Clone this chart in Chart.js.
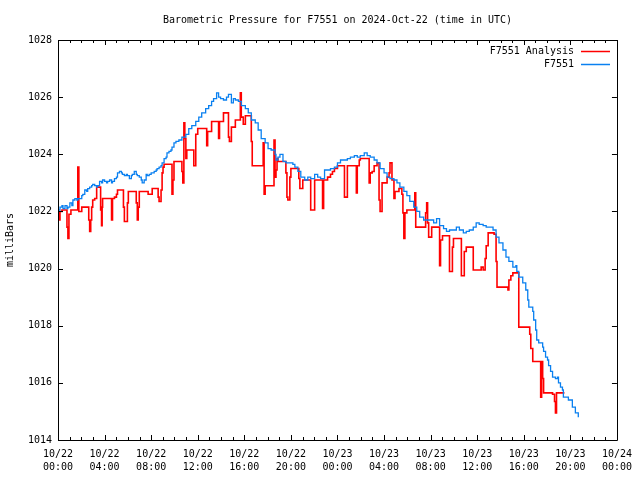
<!DOCTYPE html>
<html>
<head>
<meta charset="utf-8">
<script src="https://cdn.jsdelivr.net/npm/chart.js@4.4.1/dist/chart.umd.min.js"></script>
<style>
  html, body { margin: 0; padding: 0; background: #fff; }
  #chart { display: block; }
</style>
</head>
<body>
<canvas id="chart" width="640" height="480"></canvas>
<script>
// time in hours since 2024-10-22 00:00 UTC
const stationHours = [
  0.00, 0.17, 0.34, 0.43, 0.60, 0.77, 0.85, 1.02, 1.19, 1.28, 1.45, 1.62, 1.70, 1.87,
  2.04, 2.13, 2.30, 2.47, 2.55, 2.72, 2.89, 2.98, 3.15, 3.32, 3.40, 3.57, 3.74, 3.83,
  4.00, 4.17, 4.26, 4.43, 4.60, 4.68, 4.85, 5.02, 5.11, 5.28, 5.45, 5.53, 5.70, 5.87,
  5.96, 6.13, 6.30, 6.38, 6.55, 6.72, 6.81, 6.98, 7.15, 7.23, 7.40, 7.57, 7.66, 7.83,
  8.00, 8.09, 8.26, 8.43, 8.51, 8.68, 8.85, 8.94, 9.11, 9.28, 9.36, 9.53, 9.70, 9.79,
  9.96, 10.13, 10.38, 10.64, 10.98, 11.23, 11.49, 11.83, 12.09, 12.34, 12.68, 12.94,
  13.19, 13.36, 13.62, 13.79, 13.96, 14.21, 14.47, 14.64, 14.89, 15.06, 15.23, 15.49,
  15.74, 16.09, 16.34, 16.60, 16.94, 17.19, 17.45, 17.79, 18.04, 18.30, 18.64, 18.72,
  18.89, 19.06, 19.32, 19.57, 19.74, 20.00, 20.17, 20.34, 20.60, 20.85, 21.19, 21.45,
  21.70, 22.04, 22.30, 22.55, 22.89, 23.15, 23.40, 23.74, 24.00, 24.26, 24.60, 24.85,
  25.11, 25.45, 25.70, 25.96, 26.30, 26.55, 26.81, 27.15, 27.40, 27.66, 28.00, 28.26,
  28.51, 28.85, 29.11, 29.36, 29.70, 29.96, 30.21, 30.55, 30.81, 31.06, 31.40, 31.66,
  31.91, 32.26, 32.51, 32.77, 33.11, 33.36, 33.62, 33.96, 34.21, 34.47, 34.81, 35.06,
  35.32, 35.66, 35.91, 36.17, 36.51, 36.77, 37.02, 37.36, 37.62, 37.87, 38.21, 38.47,
  38.72, 39.06, 39.32, 39.40, 39.57, 39.91, 40.17, 40.34, 40.43, 40.77, 40.85, 41.02,
  41.11, 41.28, 41.62, 41.70, 41.87, 42.04, 42.13, 42.30, 42.47, 42.72, 42.89, 42.98,
  43.15, 43.32, 43.40, 43.74, 43.83, 44.17, 44.43, 44.68
];
const stationValues = [
  1022.05, 1022.15, 1022.2, 1022.1, 1022.2, 1022.1, 1022.15, 1022.3, 1022.2, 1022.4, 1022.45, 1022.4, 1022.45, 1022.45,
  1022.55, 1022.6, 1022.75, 1022.7, 1022.8, 1022.85, 1022.9, 1022.95, 1022.9, 1022.85, 1022.9, 1023.05, 1023.0, 1023.1,
  1023.05, 1023.0, 1023.05, 1023.1, 1023.0, 1023.05, 1023.15, 1023.2, 1023.35, 1023.4, 1023.35, 1023.3, 1023.25, 1023.3,
  1023.25, 1023.15, 1023.25, 1023.3, 1023.4, 1023.3, 1023.25, 1023.2, 1023.1, 1023.0, 1023.1, 1023.3, 1023.25, 1023.3,
  1023.35, 1023.35, 1023.4, 1023.45, 1023.5, 1023.55, 1023.6, 1023.7, 1023.85, 1023.9, 1024.05, 1024.1, 1024.15, 1024.25,
  1024.4, 1024.45, 1024.5, 1024.6, 1024.7, 1024.9, 1025.0, 1025.15, 1025.3, 1025.45, 1025.6, 1025.7,
  1025.85, 1025.95, 1026.15, 1026.0, 1025.95, 1025.9, 1026.0, 1026.1, 1025.8, 1025.95, 1025.9, 1025.85,
  1025.7, 1025.6, 1025.45, 1025.2, 1025.1, 1024.85, 1024.55, 1024.4, 1024.2, 1024.15, 1024.0, 1023.8,
  1023.9, 1024.0, 1023.75, 1023.7, 1023.7, 1023.7, 1023.65, 1023.55, 1023.4, 1023.2, 1023.1, 1023.2,
  1023.15, 1023.3, 1023.2, 1023.15, 1023.45, 1023.45, 1023.5, 1023.55, 1023.7, 1023.8, 1023.8, 1023.85,
  1023.9, 1023.95, 1023.9, 1023.95, 1024.05, 1023.95, 1023.9, 1023.8, 1023.7, 1023.5, 1023.35, 1023.2,
  1023.15, 1023.1, 1023.0, 1022.85, 1022.7, 1022.55, 1022.35, 1022.15, 1022.0, 1021.8, 1021.7, 1021.7,
  1021.7, 1021.6, 1021.75, 1021.5, 1021.4, 1021.3, 1021.35, 1021.35, 1021.45, 1021.35, 1021.25, 1021.3,
  1021.35, 1021.45, 1021.6, 1021.55, 1021.5, 1021.45, 1021.45, 1021.35, 1021.1, 1020.9, 1020.65, 1020.4,
  1020.25, 1020.05, 1020.1, 1019.9, 1019.7, 1019.5, 1019.25, 1018.9, 1018.65, 1018.5, 1018.2, 1017.85,
  1017.5, 1017.4, 1017.25, 1017.1, 1016.9, 1016.8, 1016.6, 1016.4, 1016.2, 1016.15, 1016.2, 1016.0,
  1015.85, 1015.75, 1015.5, 1015.5, 1015.4, 1015.15, 1014.95, 1014.8
];

const analysisHours = [
  0.00, 0.09, 0.17, 0.34, 0.77, 0.85, 0.94, 1.11, 1.70, 1.79, 2.04, 2.64, 2.72, 2.81,
  2.89, 2.98, 3.15, 3.32, 3.66, 3.74, 3.79, 3.83, 4.60, 4.68, 4.85, 5.02, 5.11, 5.62,
  5.70, 5.96, 6.04, 6.72, 6.81, 6.89, 6.98, 7.74, 8.09, 8.60, 8.68, 8.85, 8.94, 9.02,
  9.11, 9.79, 9.87, 9.96, 10.64, 10.72, 10.81, 10.89, 10.98, 11.06, 11.66, 11.83, 12.00, 12.77,
  12.85, 13.19, 13.79, 13.87, 14.21, 14.64, 14.72, 14.89, 15.23, 15.66, 15.74, 15.91, 16.09, 16.60,
  16.68, 17.62, 17.70, 17.79, 18.55, 18.64, 18.72, 18.81, 18.89, 19.57, 19.66, 19.74, 19.91, 20.00,
  20.68, 20.77, 21.02, 21.70, 22.04, 22.72, 22.81, 23.15, 23.40, 23.57, 23.74, 24.00, 24.60, 24.85,
  25.62, 25.70, 25.87, 25.96, 26.72, 26.81, 26.98, 27.15, 27.40, 27.57, 27.66, 27.83, 28.26, 28.43,
  28.51, 28.68, 28.85, 28.94, 29.28, 29.53, 29.62, 29.70, 29.79, 29.96, 30.64, 30.72, 31.57, 31.66,
  31.74, 31.83, 32.09, 32.77, 32.85, 33.02, 33.62, 33.87, 33.96, 34.64, 34.89, 35.06, 35.66, 36.34,
  36.51, 36.68, 36.77, 36.94, 37.45, 37.62, 37.70, 38.64, 38.72, 38.89, 39.06, 39.57, 40.51, 40.60,
  40.77, 41.45, 41.53, 41.62, 41.70, 42.47, 42.64, 42.72, 42.81, 43.49
];
const analysisValues = [
  1022.0, 1021.7, 1022.0, 1022.05, 1021.45, 1021.05, 1021.9, 1022.05, 1023.55, 1022.0, 1022.15, 1021.7, 1021.3, 1021.7,
  1022.15, 1022.4, 1022.45, 1022.85, 1022.05, 1021.5, 1022.15, 1022.45, 1021.7, 1022.45, 1022.5, 1022.6, 1022.75, 1022.15,
  1021.65, 1022.3, 1022.7, 1022.3, 1021.7, 1022.15, 1022.7, 1022.6, 1022.8, 1022.5, 1022.35, 1022.75, 1023.35, 1023.55,
  1023.65, 1022.6, 1023.1, 1023.75, 1023.4, 1023.0, 1025.1, 1024.55, 1023.85, 1024.15, 1023.6, 1024.7, 1024.9, 1024.3,
  1024.8, 1025.15, 1024.55, 1025.15, 1025.45, 1024.6, 1024.45, 1024.95, 1025.2, 1026.15, 1025.3, 1025.05, 1025.35, 1024.45,
  1023.6, 1024.4, 1022.6, 1022.9, 1024.5, 1023.2, 1023.45, 1023.85, 1023.75, 1023.35, 1022.5, 1022.4, 1023.2, 1023.5,
  1023.15, 1022.8, 1023.1, 1022.05, 1023.1, 1022.1, 1023.1, 1023.2, 1023.3, 1023.4, 1023.5, 1023.6, 1022.5, 1023.6,
  1022.65, 1023.6, 1023.8, 1023.85, 1023.0, 1023.35, 1023.4, 1023.6, 1023.7, 1022.4, 1022.0, 1023.0, 1023.2, 1023.35,
  1023.7, 1023.1, 1022.45, 1022.7, 1022.8, 1022.6, 1021.95, 1021.05, 1021.95, 1022.05, 1022.65, 1021.45, 1021.95, 1022.3,
  1021.6, 1021.1, 1021.45, 1020.1, 1021.0, 1021.15, 1019.9, 1020.75, 1021.05, 1019.75, 1020.6, 1020.75, 1019.95, 1020.05,
  1019.95, 1020.35, 1020.8, 1021.25, 1021.2, 1020.25, 1019.35, 1019.25, 1019.6, 1019.75, 1019.85, 1017.95, 1017.7, 1017.2,
  1016.75, 1015.5, 1016.75, 1016.15, 1015.65, 1015.6, 1015.35, 1014.95, 1015.65, 1015.65
];

// x tick labels, one per 4 hours
const tickDates = ['10/22', '10/22', '10/22', '10/22', '10/22', '10/22', '10/23', '10/23', '10/23', '10/23', '10/23', '10/23', '10/24'];
const tickTimes = ['00:00', '04:00', '08:00', '12:00', '16:00', '20:00', '00:00', '04:00', '08:00', '12:00', '16:00', '20:00', '00:00'];

const FONT = 'DejaVu Sans Mono';
const RED = '#ff0000';
const BLUE = '#0a80f0';

const zip = (xs, ys) => xs.map((x, i) => ({ x: x, y: ys[i] }));

// gnuplot-like frame, inward ticks, title and key
const gnuplotFrame = {
  id: 'gnuplotFrame',
  afterDraw(chart) {
    const { ctx, chartArea: a, scales } = chart;
    const xs = scales.x, ys = scales.y;
    ctx.save();
    ctx.strokeStyle = '#000';
    ctx.lineWidth = 1;
    ctx.beginPath();
    ctx.rect(Math.round(a.left) + 0.5, Math.round(a.top) + 0.5,
             Math.round(a.right - a.left), Math.round(a.bottom - a.top));
    ctx.stroke();

    ctx.beginPath();
    for (let h = 0; h <= 48; h++) {
      const px = Math.round(xs.getPixelForValue(h)) + 0.5;
      const len = h % 4 === 0 ? 5 : 3;
      ctx.moveTo(px, a.bottom); ctx.lineTo(px, a.bottom - len);
      ctx.moveTo(px, a.top); ctx.lineTo(px, a.top + len);
    }
    for (let v = 1014; v <= 1028; v += 2) {
      const py = Math.round(ys.getPixelForValue(v)) + 0.5;
      ctx.moveTo(a.left, py); ctx.lineTo(a.left + 5, py);
      ctx.moveTo(a.right, py); ctx.lineTo(a.right - 5, py);
    }
    ctx.stroke();

    ctx.fillStyle = '#000';
    ctx.font = '10px "' + FONT + '"';
    ctx.textBaseline = 'middle';
    ctx.textAlign = 'center';
    ctx.fillText('Barometric Pressure for F7551 on 2024-Oct-22 (time in UTC)', (a.left + a.right) / 2, 20);

    const keys = [
      { label: 'F7551 Analysis', color: RED, width: 1.5 },
      { label: 'F7551', color: BLUE, width: 1.5 }
    ];
    keys.forEach((k, i) => {
      const y = 51 + i * 13;
      ctx.textAlign = 'right';
      ctx.fillStyle = '#000';
      ctx.fillText(k.label, 574, y);
      ctx.strokeStyle = k.color;
      ctx.lineWidth = k.width;
      ctx.beginPath();
      ctx.moveTo(581, y + 0.5);
      ctx.lineTo(610, y + 0.5);
      ctx.stroke();
    });
    ctx.restore();
  }
};

new Chart(document.getElementById('chart'), {
  type: 'line',
  data: {
    datasets: [
      {
        label: 'F7551 Analysis',
        data: zip(analysisHours, analysisValues),
        borderColor: RED,
        borderWidth: 1.6,
        stepped: true, // hold each value until the next sample
        pointRadius: 0,
        fill: false,
        order: 2
      },
      {
        label: 'F7551',
        data: zip(stationHours, stationValues),
        borderColor: BLUE,
        borderWidth: 1.3,
        stepped: true,
        pointRadius: 0,
        fill: false,
        order: 1
      }
    ]
  },
  options: {
    responsive: false,
    devicePixelRatio: 1,
    animation: false,
    events: [],
    layout: { padding: { left: 0, right: 18, top: 40, bottom: 0 } },
    plugins: {
      legend: { display: false },
      tooltip: { enabled: false }
    },
    scales: {
      x: {
        type: 'linear',
        min: 0,
        max: 48,
        afterFit: (s) => { s.height = 40; },
        grid: { display: false, drawTicks: false },
        border: { display: false },
        ticks: {
          stepSize: 4,
          autoSkip: false,
          maxRotation: 0,
          padding: 8,
          color: '#000',
          font: { family: FONT, size: 10, lineHeight: 1.3 },
          callback: (v) => {
            const i = Math.round(v / 4);
            return [tickDates[i], tickTimes[i]];
          }
        }
      },
      y: {
        min: 1014,
        max: 1028,
        afterFit: (s) => { s.width = 58; },
        grid: { display: false, drawTicks: false },
        border: { display: false },
        ticks: {
          stepSize: 2,
          padding: 6,
          color: '#000',
          font: { family: FONT, size: 10 },
          callback: (v) => String(v)
        },
        title: {
          display: true,
          text: 'milliBars',
          color: '#000',
          font: { family: FONT, size: 10 },
          padding: { top: 4, bottom: 0 }
        }
      }
    }
  },
  plugins: [gnuplotFrame]
});
</script>
</body>
</html>
